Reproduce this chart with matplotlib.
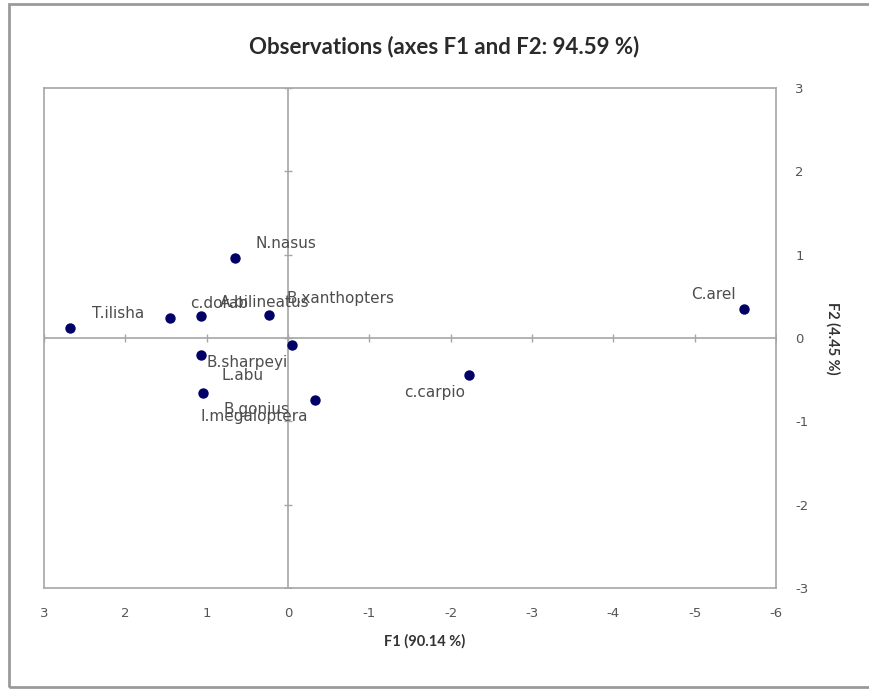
"""
PCA observations plot (F1 vs F2)
"""

import matplotlib.pyplot as plt
from matplotlib.patches import Rectangle

plt.rcParams["axes.unicode_minus"] = False

# observations: name, F1, F2
names = [
    "T.ilisha", "c.dorab", "A.bilineatus", "B.xanthopters", "N.nasus",
    "C.arel", "c.carpio", "B.sharpeyi", "L.abu", "B.gonius", "I.megaloptera",
]
f1 = [2.68, 1.45, 1.07, 0.23, 0.65, -5.61, -2.23, 1.07, -0.05, -0.33, 1.04]
f2 = [0.12, 0.24, 0.27, 0.28, 0.96, 0.35, -0.44, -0.20, -0.08, -0.74, -0.66]

x_ticks = [3, 2, 1, 0, -1, -2, -3, -4, -5, -6]
y_ticks = [-3, -2, -1, 0, 1, 2, 3]

# label offsets in pixels (dx, dy, ha)
label_pos = {
    "T.ilisha": (22, 14, "left"),
    "c.dorab": (20, 15, "left"),
    "A.bilineatus": (19, 13, "left"),
    "B.xanthopters": (17, 16, "left"),
    "N.nasus": (20, 15, "left"),
    "C.arel": (-9, 14, "right"),
    "c.carpio": (-4, -18, "right"),
    "B.sharpeyi": (6, -8, "left"),
    "L.abu": (-28, -31, "right"),
    "B.gonius": (-25, -10, "right"),
    "I.megaloptera": (-3, -24, "left"),
}

grey = "#a6a6a6"
txt = "#4d4d4d"

fig = plt.figure(figsize=(8.69, 6.90), dpi=100)
ax = fig.add_axes([44 / 869, 1 - 588 / 690, 732 / 869, 500 / 690])

ax.set_xlim(3, -6)
ax.set_ylim(-3, 3)

# zero axes with little tick marks
ax.axhline(0, color=grey, lw=1.2, zorder=1)
ax.axvline(0, color=grey, lw=1.2, zorder=1)
ax.plot(x_ticks, [0] * len(x_ticks), ls="none", marker="|", ms=6, mew=1.0,
        color=grey, zorder=1)
ax.plot([0] * len(y_ticks), y_ticks, ls="none", marker="_", ms=6, mew=1.0,
        color=grey, zorder=1)

ax.scatter(f1, f2, s=42, color="#000066", zorder=3)
for name, x, y in zip(names, f1, f2):
    dx, dy, ha = label_pos[name]
    ax.annotate(name, (x, y), xytext=(dx, dy), textcoords="offset pixels",
                ha=ha, va="center", fontsize=11, color=txt, zorder=4)

ax.set_xticks(x_ticks)
ax.set_xticklabels([str(t) for t in x_ticks])
ax.set_yticks(y_ticks)
ax.yaxis.tick_right()
ax.tick_params(length=0, labelsize=9.5, labelcolor="#555555")
ax.tick_params(axis="x", pad=14)
ax.tick_params(axis="y", pad=14)
for sp in ax.spines.values():
    sp.set_color(grey)
    sp.set_linewidth(1.2)

fig.text(444 / 869, 1 - 47 / 690, "Observations (axes F1 and F2: 94.59 %)",
         ha="center", va="center", fontsize=16, color="#2a2a2a",
         family="Lato", fontweight="bold")
fig.text(425 / 869, 1 - 641 / 690, "F1 (90.14 %)", ha="center", va="center",
         fontsize=10.5, color="#333333", family="Lato", fontweight="bold")
fig.text(833 / 869, 1 - 338 / 690, "F2 (4.45 %)", ha="center", va="center",
         rotation=-90, fontsize=10.5, color="#333333", family="Lato",
         fontweight="bold")

# outer frame
fig.patches.append(Rectangle((9 / 869, 3 / 690), 880 / 869, 683 / 690,
                             transform=fig.transFigure, fill=False,
                             edgecolor="#9a9a9a", lw=2))

fig.savefig("out.png", dpi=100)
